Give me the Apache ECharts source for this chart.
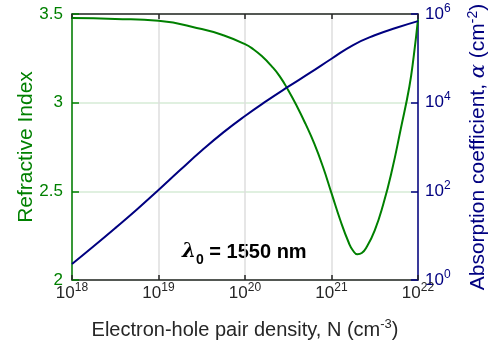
<!DOCTYPE html>
<html>
<head>
<meta charset="utf-8">
<script src="https://cdn.jsdelivr.net/npm/echarts@6/dist/echarts.min.js"></script>
<style>
  html, body { margin: 0; padding: 0; background: #fff; }
  #chart { width: 488px; height: 353px; }
</style>
</head>
<body>
<div id="chart"></div>
<script>
// refractive index vs carrier density (log10 of N)
var indexDensityExp = [18.0, 18.5, 19.0, 19.5, 19.75, 20.0, 20.1, 20.2, 20.3, 20.4, 20.5, 20.6, 20.7, 20.8, 20.9, 21.0, 21.1, 21.2, 21.25, 21.3, 21.35, 21.4, 21.5, 21.6, 21.7, 21.8, 21.9, 21.95, 22.0]
var refractiveIndex = [3.477, 3.472, 3.462, 3.415, 3.38, 3.33, 3.30, 3.26, 3.21, 3.15, 3.07, 2.98, 2.88, 2.77, 2.64, 2.49, 2.34, 2.21, 2.165, 2.145, 2.152, 2.18, 2.28, 2.43, 2.62, 2.85, 3.09, 3.26, 3.47]

// absorption coefficient (log10 of alpha) vs carrier density
var absDensityExp = [18.0, 18.25, 18.5, 18.75, 19.0, 19.25, 19.5, 19.75, 20.0, 20.25, 20.5, 20.75, 21.0, 21.25, 21.5, 21.75, 22.0]
var absorptionExp = [0.36, 0.76, 1.17, 1.59, 2.03, 2.48, 2.92, 3.33, 3.70, 4.04, 4.36, 4.67, 4.99, 5.30, 5.52, 5.69, 5.84]

var green = '#008000'
var navy = '#000080'
var dark = '#262626'
var font = 'Liberation Sans, Arial, Helvetica, sans-serif'

function pow10Label(v) {
  var e = Math.round(Math.log10(v))
  return '{b|10}{sup|' + e + '}'
}
function richFor(color) {
  return {
    b: { fontSize: 17, color: color, fontFamily: font, verticalAlign: 'bottom', lineHeight: 17 },
    sup: { fontSize: 12, color: color, fontFamily: font, verticalAlign: 'bottom', lineHeight: 12, padding: [0, 0, 8, 0] }
  }
}

var chart = echarts.init(document.getElementById('chart'))
chart.setOption({
  animation: false,
  backgroundColor: '#fff',
  grid: { left: 72, right: 70, top: 14, bottom: 73, containLabel: false, outerBoundsMode: 'none' },
  xAxis: [{
    type: 'log', logBase: 10, min: 1e18, max: 1e22,
    position: 'bottom',
    name: '{t|Electron-hole pair density, N (cm}{s|-3}{t|)}',
    nameLocation: 'middle', nameGap: 40, nameMoveOverlap: false,
    nameTextStyle: {
      rich: {
        t: { fontSize: 20, color: dark, fontFamily: font, verticalAlign: 'bottom', lineHeight: 20 },
        s: { fontSize: 13, color: dark, fontFamily: font, verticalAlign: 'bottom', lineHeight: 13, padding: [0, 0, 9, 0] }
      }
    },
    axisLine: { onZero: false, lineStyle: { color: dark, width: 1.5 } },
    axisTick: { inside: true, length: 5, lineStyle: { color: dark, width: 1.5 } },
    axisLabel: { formatter: pow10Label, rich: richFor(dark), margin: 5 },
    splitLine: { show: true, lineStyle: { color: '#dedede', width: 1.5 } },
    minorTick: { show: false }
  }, {
    type: 'log', logBase: 10, min: 1e18, max: 1e22,
    position: 'top',
    axisLine: { onZero: false, lineStyle: { color: dark, width: 1.5 } },
    axisTick: { inside: true, length: 5, lineStyle: { color: dark, width: 1.5 } },
    axisLabel: { show: false },
    splitLine: { show: false }
  }],
  yAxis: [{
    type: 'value', min: 2, max: 3.5, interval: 0.5,
    position: 'left',
    name: 'Refractive Index',
    nameLocation: 'middle', nameGap: 35, nameMoveOverlap: false,
    nameTextStyle: { fontSize: 21, color: green, fontFamily: font },
    axisLine: { show: true, lineStyle: { color: green, width: 1.5 } },
    axisTick: { show: true, inside: true, length: 7, lineStyle: { color: green, width: 1.5 } },
    axisLabel: { fontSize: 17, color: green, fontFamily: font, margin: 9 },
    splitLine: { show: true, lineStyle: { color: '#d6ebd6', width: 1.5 } }
  }, {
    type: 'log', logBase: 100, min: 1, max: 1e6,
    position: 'right',
    name: '{t|Absorption coefficient, }{a|α}{t| (cm}{s|-2}{t|)}',
    nameLocation: 'middle', nameGap: 50, nameRotate: 90, nameMoveOverlap: false,
    nameTextStyle: {
      rich: {
        t: { fontSize: 21, color: navy, fontFamily: font, verticalAlign: 'bottom', lineHeight: 21 },
        a: { fontSize: 21, color: navy, fontFamily: 'DejaVu Serif, serif', fontStyle: 'italic', verticalAlign: 'bottom', lineHeight: 21 },
        s: { fontSize: 14, color: navy, fontFamily: font, verticalAlign: 'bottom', lineHeight: 14, padding: [0, 0, 9, 0] }
      }
    },
    axisLine: { show: true, lineStyle: { color: navy, width: 1.5 } },
    axisTick: { show: true, inside: true, length: 7, lineStyle: { color: navy, width: 1.5 } },
    axisLabel: { formatter: pow10Label, rich: richFor(navy), margin: 7 },
    splitLine: { show: false },
    minorTick: { show: false }
  }],
  graphic: [{
    type: 'text',
    left: 182, top: 242,
    style: {
      text: '{l|λ}{sub|0}{n| = 1550 nm}',
      rich: {
        l: { fontSize: 20, fontWeight: 'bold', fontStyle: 'italic', fontFamily: 'DejaVu Serif, serif', fill: '#000', verticalAlign: 'top', lineHeight: 20 },
        sub: { fontSize: 14, fontWeight: 'bold', fontFamily: font, fill: '#000', verticalAlign: 'top', lineHeight: 14, padding: [11, 0, 0, 0] },
        n: { fontSize: 20, fontWeight: 'bold', fontFamily: font, fill: '#000', verticalAlign: 'top', lineHeight: 20 }
      }
    }
  }],
  series: [{
    name: 'Refractive Index',
    type: 'line',
    xAxisIndex: 0, yAxisIndex: 0,
    data: indexDensityExp.map(function (e, i) { return [Math.pow(10, e), refractiveIndex[i]] }),
    smooth: 0.5, showSymbol: false,
    lineStyle: { color: green, width: 2 }
  }, {
    name: 'Absorption',
    type: 'line',
    xAxisIndex: 0, yAxisIndex: 1,
    data: absDensityExp.map(function (e, i) { return [Math.pow(10, e), Math.pow(10, absorptionExp[i])] }),
    smooth: 0.5, showSymbol: false,
    lineStyle: { color: navy, width: 2 }
  }]
})
</script>
</body>
</html>
